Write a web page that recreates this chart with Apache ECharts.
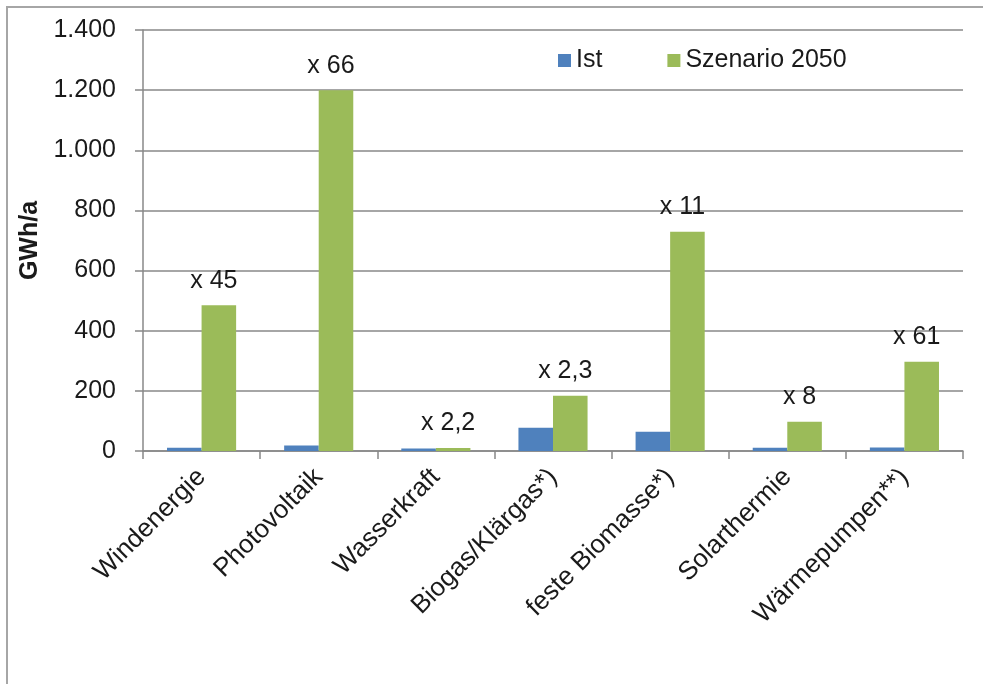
<!DOCTYPE html>
<html>
<head>
<meta charset="utf-8">
<title>Ist / Szenario 2050</title>
<script src="https://cdn.jsdelivr.net/npm/echarts@6/dist/echarts.min.js"></script>
<style>
  html, body { margin: 0; padding: 0; background: #fff; }
  #chart { width: 983px; height: 684px; }
</style>
</head>
<body>
<div id="chart"></div>
<script>
// Kategorien
var categories = ["Windenergie", "Photovoltaik", "Wasserkraft", "Biogas/Klärgas*)", "feste Biomasse*)", "Solarthermie", "Wärmepumpen**)"];
// Ist-Werte (GWh/a)
var istValues = [11, 18, 8, 77, 64, 11, 12];
// Szenario 2050 (GWh/a)
var szenarioValues = [485, 1200, 10, 184, 729, 97, 297];
// Faktoren über den Balken
var factorLabels = ["x 45", "x 66", "x 2,2", "x 2,3", "x 11", "x 8", "x 61"];

var FONT = "'Liberation Sans', Arial, sans-serif";

var chart = echarts.init(document.getElementById("chart"));

var option = {
  animation: false,
  textStyle: { fontFamily: FONT },
  // Rahmen um das Diagramm
  graphic: [
    {
      type: "rect",
      shape: { x: 7, y: 7, width: 1000, height: 700 },
      style: { fill: "none", stroke: "#a6a6a6", lineWidth: 2 },
      silent: true,
    },
  ],
  grid: {
    left: 143,
    right: 20,
    top: 30,
    bottom: 233,
  },
  legend: {
    left: 553,
    top: 43,
    icon: "rect",
    itemWidth: 13,
    itemHeight: 13,
    itemGap: 65,
    textStyle: { fontSize: 25, color: "#1a1a1a", fontFamily: FONT },
    data: ["Ist", "Szenario 2050"],
  },
  xAxis: {
    type: "category",
    data: categories,
    axisLine: { lineStyle: { color: "#888", width: 1.5 } },
    axisTick: { show: true, length: 8, lineStyle: { color: "#888", width: 1.5 } },
    axisLabel: {
      interval: 0,
      rotate: 45,
      margin: 22,
      fontSize: 26,
      color: "#1a1a1a",
      fontFamily: FONT,
    },
  },
  yAxis: {
    type: "value",
    min: 0,
    max: 1400,
    interval: 200,
    name: "GWh/a",
    nameLocation: "middle",
    nameRotate: 90,
    nameGap: 100,
    nameTextStyle: { fontSize: 25, fontWeight: "bold", color: "#1a1a1a", fontFamily: FONT },
    axisLine: { show: true, lineStyle: { color: "#888", width: 1.5 } },
    axisTick: { show: true, length: 8, lineStyle: { color: "#888", width: 1.5 } },
    splitLine: { lineStyle: { color: "#888", width: 1.5 } },
    axisLabel: {
      margin: 27,
      fontSize: 25,
      color: "#1a1a1a",
      fontFamily: FONT,
      formatter: function (v) {
        // Tausenderpunkt wie im Original
        return String(v).replace(/\B(?=(\d{3})+(?!\d))/g, ".");
      },
    },
  },
  series: [
    {
      name: "Ist",
      type: "bar",
      color: "#4f81bd",
      barGap: "0%",
      barCategoryGap: "41%",
      data: istValues,
    },
    {
      name: "Szenario 2050",
      type: "bar",
      color: "#9bbb59",
      barGap: "0%",
      barCategoryGap: "41%",
      data: szenarioValues,
      label: {
        show: true,
        position: "top",
        distance: 12,
        offset: [-5, 0],
        fontSize: 25,
        color: "#1a1a1a",
        fontFamily: FONT,
        formatter: function (p) {
          return factorLabels[p.dataIndex];
        },
      },
    },
  ],
};

chart.setOption(option);
</script>
</body>
</html>
